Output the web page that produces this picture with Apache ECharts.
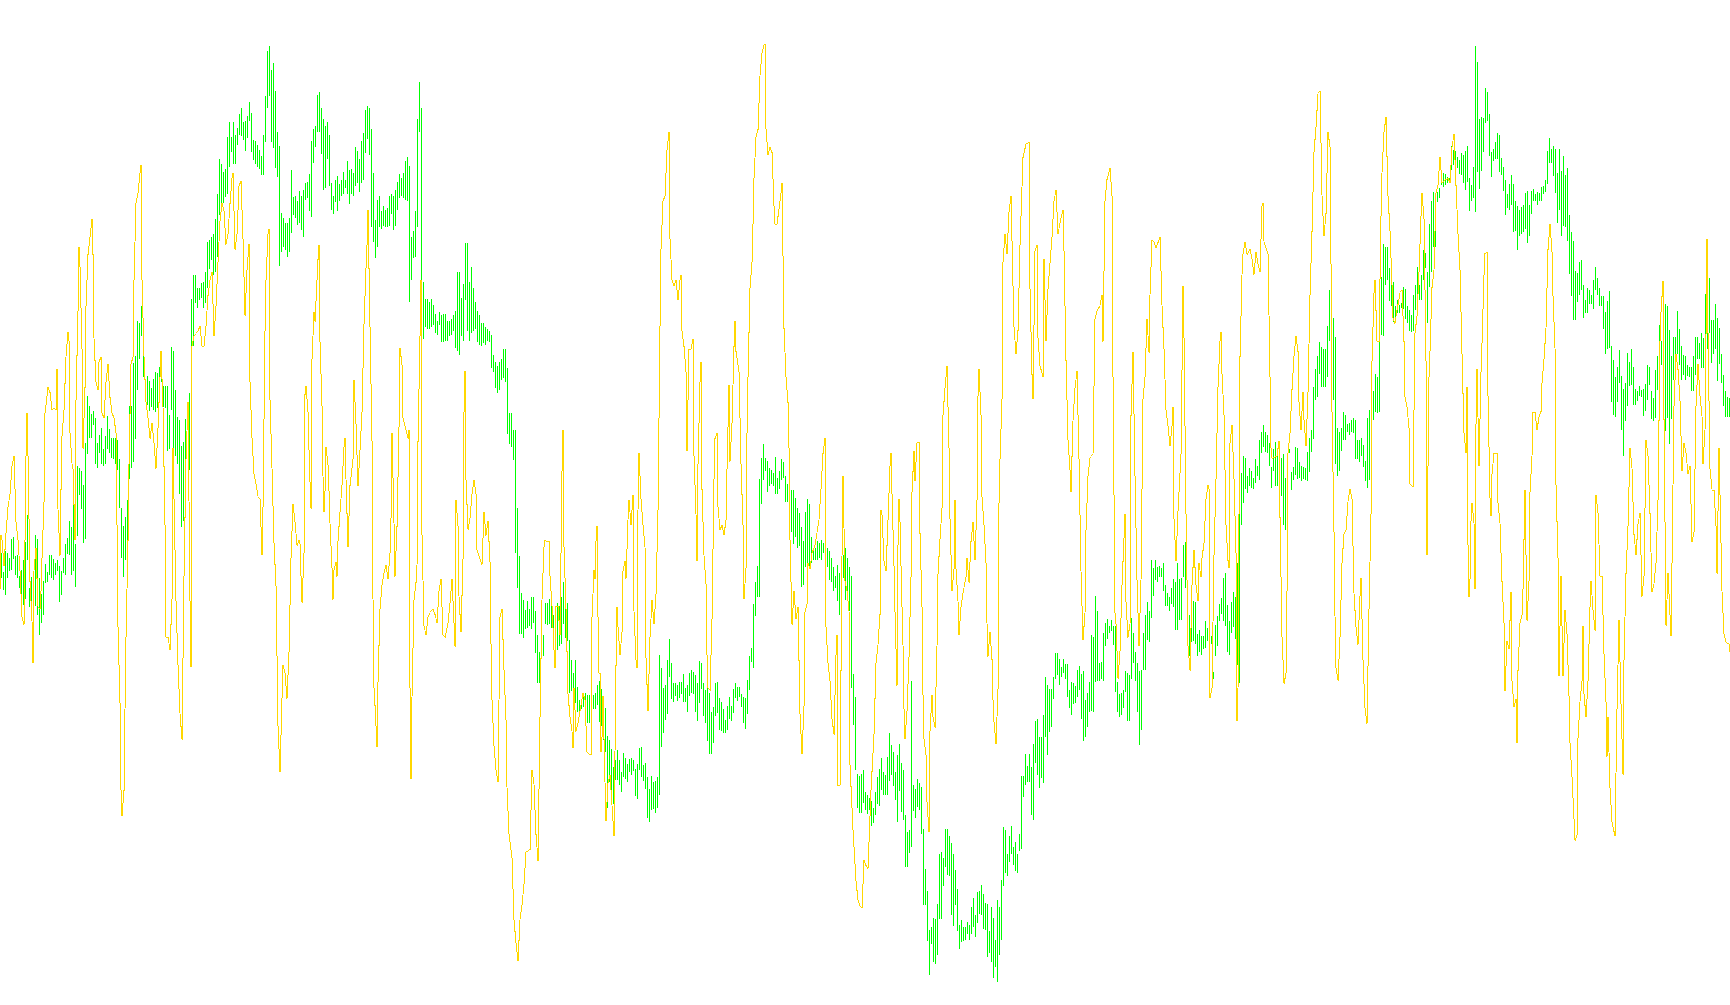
<!DOCTYPE html>
<html><head><meta charset="utf-8"><style>html,body{margin:0;padding:0;background:#fff}#c{width:1730px;height:1005px}</style>
<script src="https://cdn.jsdelivr.net/npm/echarts@6/dist/echarts.min.js"></script></head><body><div id="c"></div>
<script>
// Green range bars: pairs of (high reading, low reading), one pair per sample
const greenA=[553,578,572,590,551,595,553,578,558,571,539,570,537,559,556,575,555,578,576,588,570,600,560,605,542,599,515,560,588,607,577,619,585,632,535,606,539,615,578,635,594,623,581,615,564,583,572,582,555,575,555,578,559,580,563,575,560,571,566,602,571,595,558,573,544,575,538,554,521,555,527,575,469,571,544,587,466,536,468,495,471,509,485,543,443,539,396,454,406,438,414,438,411,425,418,464,443,468,435,453,428,464,449,466,436,464,416,449,429,453,438,458,438,459,438,464,440,470,459,508,508,558,526,577,517,560,500,554,406,479,406,468,363,462,356,439,321,390,323,359,306,336,338,377,387,392,376,405,381,411,388,407,379,410,372,412,373,408,367,382,360,382,386,407,386,408,386,451,415,449,347,410,351,448,390,456,417,464,420,494,446,527,442,521,419,474,402,425,393,470,299,560,275,346,275,303,288,308,288,300,283,298,282,308,272,303,242,288,240,269,237,260,234,275,219,272,194,257,159,215,164,203,172,203,169,197,137,194,122,167,137,152,122,164,135,164,128,145,114,135,108,136,122,140,121,151,116,138,102,121,113,152,140,160,141,164,145,167,150,169,156,175,135,175,96,142,51,108,46,96,70,142,63,148,91,168,132,177,146,266,213,252,218,247,223,250,223,257,218,252,170,233,197,215,196,218,201,225,191,223];
const greenB=[196,230,190,237,183,200,182,198,174,211,141,217,129,163,126,147,95,132,92,132,108,154,119,190,126,188,122,159,135,186,183,210,196,214,180,202,176,211,184,201,180,196,172,194,180,188,161,194,170,204,169,194,173,196,147,186,151,183,159,192,141,183,133,180,110,153,106,139,108,155,129,227,173,242,220,258,200,247,196,227,211,229,206,226,210,227,208,227,196,226,194,214,196,230,190,226,182,210,174,198,178,196,173,198,161,200,157,201,166,302,237,280,231,258,211,257,119,227,82,132,108,324,282,339,299,327,299,329,302,329,299,327,305,325,314,333,321,335,312,325,315,342,314,342,314,341,321,341,321,336,319,335,315,331,311,348,272,351,272,355,298,336,284,341,243,300,243,331,282,341,267,333,288,331,302,329,311,342,315,345,323,346,323,343,327,345,329,341,331,342,335,368,355,372,362,388,366,393,362,390,359,380,349,378,349,382,368,434,413,444,413,447,430,460,430,553,508,588,556,634,593,634,600,638,610,629,601,628,609,626,597,629,597,623,611,653,635,683,652,683,620,659,635,656,603,624,603,625,599,624,591,628,615,650,615,650,603,650,606,646,597,644,582,624,597,638,603,641,640,693,660,691,673,703,660,703,687,712,700,712,700,709,697,707,693,712,695,723,695,723,695,710,695,709,693,709,685,705,681,722];
const greenC=[689,726,696,740,708,752,736,808,740,782,749,798,767,804,760,780,750,780,760,785,772,792,753,777,758,779,764,782,759,772,758,775,760,771,769,796,764,799,748,770,747,777,765,781,763,789,777,818,789,822,776,810,782,809,781,813,777,808,655,795,668,747,688,733,685,720,660,714,639,677,663,699,683,702,683,696,685,701,682,698,682,694,674,702,688,702,685,712,673,696,670,693,672,694,675,712,683,721,661,703,663,689,683,716,690,723,688,741,693,754,712,754,707,743,683,716,682,713,698,730,702,731,709,733,720,733,706,730,697,719,706,721,689,713,683,698,687,701,687,697,694,707,697,723,698,729,680,714,656,690,648,662,604,668,582,616,566,597,479,597,458,504,444,480,458,471,461,492,468,486,470,484,473,486,457,494,478,494,471,489,459,480,462,478,476,502,484,502,492,532,490,532,490,544,498,537,508,548,513,546,527,587,541,585,512,567,499,564,504,568,537,563,549,560,548,560,541,560,543,558,540,560,543,553,537,550,548,567,551,580,558,582,567,591,576,588,565,601,573,615,560,615,555,578,548,600,558,599,567,611,576,688,674,725,697,770,774,808,776,813,774,813,770,803,792,810,795,814,798,810,801,826,808,823,792,815,777,804,769,806,758,790,772,795,775,795,757,795,733,781,745,775,752,786,772,800,755,822,744,791];
const greenD=[763,812,770,820,815,867,832,867,830,853,681,847,785,811,789,818,779,807,783,810,787,834,829,905,869,905,891,941,930,975,927,944,918,962,919,964,904,955,854,919,852,919,858,886,829,867,829,875,836,876,843,915,854,926,870,905,889,931,925,949,920,942,927,941,927,940,922,934,925,940,907,934,898,927,915,937,892,923,891,914,885,915,894,929,903,930,904,957,931,953,907,962,918,978,940,967,900,982,907,955,880,940,827,886,830,873,854,876,836,862,826,854,847,865,842,871,854,873,834,851,776,849,776,797,754,785,766,782,754,782,767,815,744,820,721,763,719,775,737,788,737,778,715,783,677,737,685,755,689,732,689,727,677,699,653,679,653,675,659,685,667,677,659,673,664,679,664,697,690,708,682,715,683,704,686,703,670,697,666,690,674,719,671,741,700,737,693,727,682,712,635,711,637,712,596,682,611,681,663,681,662,679,633,681,623,646,619,639,626,633,620,631,626,645,626,692,682,712,694,717,693,715,690,708,671,692,673,721,675,721,618,679,633,663,652,681,663,712,671,745,670,730,633,670,615,670,602,640,611,642,560,618,568,596,560,580,567,582,566,577,568,577,563,591,585,606,593,606,597,611,588,604,579,607,582,630,563,630,579,620,578,620,545,577,542,588,624,646,615,656,586,642,601,641,602,644,634,656,630,652];
const greenE=[636,655,636,649,621,648,628,641,625,642,636,644,672,679,625,656,616,646,604,621,598,614,578,621,573,626,605,652,621,655,602,633,592,627,597,639,563,665,454,683,473,525,456,503,458,489,476,493,468,486,471,488,478,489,459,483,466,476,440,480,432,453,425,447,432,452,435,453,443,466,467,488,449,471,442,486,456,486,466,484,458,496,454,525,478,530,461,522,449,453,472,490,467,480,447,475,448,479,462,478,466,481,467,479,468,480,452,481,438,472,430,452,387,439,369,400,356,397,342,374,347,387,349,387,349,387,326,377,290,341,311,346,318,400,337,464,428,476,432,471,428,451,412,440,415,440,424,432,423,435,420,432,418,433,420,459,440,459,440,462,438,456,445,467,461,481,418,488,410,480,400,432,391,420,374,412,377,413,340,412,277,335,244,336,247,285,247,280,268,301,281,306,282,322,306,320,300,313,305,313,303,308,287,309,289,319,306,323,310,331,315,332,295,331,285,310,267,310,285,300,275,300,250,280,253,268,272,323,224,287,201,272,192,247,208,247,192,202,188,198,174,185,173,187,174,185,177,183,178,183,146,170,150,165,151,163,157,168,160,174,153,175,155,183,151,190,146,182,178,211];
const greenF=[185,201,167,198,46,212,62,172,119,189,117,171,118,152,88,123,92,121,114,156,152,177,149,161,142,159,133,159,135,172,158,175,167,191,180,215,194,208,184,210,175,205,184,232,201,231,206,250,210,236,207,234,205,232,193,229,191,243,205,236,191,214,189,201,194,201,192,205,193,201,187,201,186,194,180,192,151,184,138,163,149,163,146,176,149,193,173,223,149,210,171,236,156,226,175,227,168,241,215,274,232,296,241,320,271,320,273,302,262,295,260,290,285,318,300,313,288,313,290,304,295,304,280,309,267,290,278,295,288,306,296,306,296,329,312,354,301,349,291,348,346,402,360,415,377,417,367,402,350,383,376,430,389,456,383,421,353,406,362,386,349,385,367,405,389,405,391,401,386,396,390,397,389,416,384,411,365,400,367,385,391,419,398,421,370,418,356,390,325,365,341,365,327,363,304,431,306,418,330,444,356,419,337,380,337,363,311,354,329,365,346,380,355,375,356,380,365,376,367,377,367,391,356,391,337,375,337,359,343,359,333,368,338,368,294,359,285,349,278,333,320,363,320,354,304,349,318,381,328,364,354,383,375,406,391,417,397,417,398,417];

// Yellow line readings: pairs of (position, reading) per crop of the reference
const yellowA=[0,1095,3,990,6,1000,12,1050,18,985,24,935,30,910,36,855,42,835,48,965,54,1000,60,1060,66,1150,72,1165,78,835,82,750,86,835,90,1080,96,1160,100,1240,104,1060,108,1015,112,1075,116,1130,120,1135,124,1100,128,1035,132,925,136,750,140,735,146,700,150,710,156,745,162,740,168,745,172,665,176,940,180,1030,184,900,188,795,192,745,198,640,204,592,208,610,212,790,216,850,220,860,225,1000,230,725,234,550,238,425,242,465,246,625,250,820,256,700,260,540,264,440,270,405,276,370,280,440,284,605,290,690,294,705,298,650,304,640,308,750,314,760,318,690,324,655,330,720,336,750,342,760,348,790,352,970,356,1170,360,1320,364,1490,368,1540,372,1490,376,1330,380,1190,384,1000,388,850,394,655,400,640,404,490,410,340,416,320,420,280,424,265,428,490,432,640,438,730,444,760,450,800,456,770,462,810,468,860,474,780,480,680,484,630,490,740,496,970,500,1190,506,1190,512,1215,516,1115,520,820,524,920,528,1120,534,1245,540,1340,546,1390,552,1070,558,840,564,730,570,1120,574,1250,578,620,584,600,590,595,596,590,602,580,608,620,614,620,620,580,626,520,632,490,638,475,644,600,650,540,656,455,660,375,666,340,672,355,678,420,684,400,690,340,696,290,700,280,706,430,712,400,718,305,724,295,730,410,736,560,742,470,748,420,752,690,756,800,762,870,768,890,774,915,780,920,786,1030,790,935,796,590,800,490,804,400,808,390,812,725,816,860,822,1005,828,1090,834,1365,840,1455,846,1310,850,1245,856,1260,862,1310,868,1220,874,1035,880,930,886,965,892,1010,898,1000];
const yellowB=[0,825,4,880,8,925,12,840,14,670,16,570,20,555,24,600,27,665,30,720,34,765,38,510,42,430,46,445,50,410,54,340,58,315,62,480,66,590,70,710,72,770,76,735,80,660,84,690,88,735,92,790,96,865,100,920,104,870,108,855,112,880,116,820,120,770,126,725,132,660,136,645,140,715,146,830,152,725,160,680,164,545,170,620,176,725,182,665,188,600,192,450,198,355,202,315,206,255,212,455,216,650,219,920,222,1070,226,1100,232,1170,236,1060,240,935,246,895,252,875,258,860,264,885,270,840,274,780,278,635,282,790,286,880,292,795,298,625,302,490,306,520,310,610,318,630,324,645,328,630,332,1070,335,1225,338,1085,342,920,348,890,352,860,356,650,360,470,364,375,368,810,372,965,378,980,384,950,392,942,400,935,406,945,412,960,418,905,424,885,430,980,436,985,444,960,450,925,456,885,462,960,466,1000,470,750,474,795,478,915,484,975,490,850,493,600,496,530,500,715,504,800,510,780,516,740,522,715,528,740,532,835,540,850,548,860,553,770,560,810,566,785,572,855,574,995,578,1090,582,1170,588,1210,594,1230,598,1090,602,950,606,935,612,1040,618,1125,622,1240,628,1320,636,1360,642,1465,648,1505,656,1535,662,1465,668,1440,674,1405,680,1350,690,1345,696,1210,702,1235,708,1320,714,1365,720,1120,724,1020,728,920,732,830,736,818,742,820,748,820,752,880,758,930,762,1005,766,1035,770,930,776,930,782,980,786,700,790,630,794,830,800,935,804,1080,810,1120,816,1145,820,1172,824,1070,830,1145,836,1130,842,1110,850,1078,856,1090,862,1180,868,1182,874,1185,878,950,882,870,886,885,890,820,892,795,896,950,899,1045];
const yellowC=[0,1260,3,1415,6,1385,10,1305,15,1475,20,1550,24,1475,30,1460,36,1520,42,1580,48,1245,52,1130,56,1170,60,1225,66,1180,70,1060,75,1040,80,1075,84,960,88,922,94,970,100,912,104,1140,108,1235,112,1250,115,940,118,830,124,920,130,970,136,1015,140,1230,146,1335,152,1190,158,1118,164,1165,170,1105,175,940,180,580,184,430,190,335,196,325,202,235,207,200,212,410,216,490,222,500,228,490,234,530,240,490,244,480,248,590,252,620,258,670,262,825,268,625,274,625,280,605,284,835,288,950,291,1040,296,850,300,690,304,650,308,900,314,1030,318,1085,322,1225,326,1290,332,1295,336,1155,342,880,346,800,352,790,356,935,360,980,366,970,372,990,378,960,382,860,387,695,392,845,398,770,402,620,406,570,410,630,418,670,424,850,430,970,434,1115,438,1055,442,790,446,680,450,505,456,455,460,380,464,290,468,210,474,195,480,90,486,45,492,30,496,28,500,195,504,245,512,230,518,240,522,345,526,380,532,380,538,350,544,320,548,300,552,585,558,680,564,730,568,820,572,1000,578,1165,584,1100,590,1155,596,1130,602,1340,606,1420,612,1325,616,1140,622,1125,626,1045,632,1055,638,1025,646,1010,652,985,658,960,664,900,670,830,676,800,680,1170,686,1240,692,1275,698,1350,702,1380,708,1225,712,1185,716,1480,722,1480,728,1030,731,875,736,1080,742,1100,748,1140,752,1440,759,1568,768,1667,774,1706,780,1716,786,1720,792,1627,798,1637,804,1643,813,1490,822,1380,826,1310,830,1240,834,1205,840,1145,843,940,848,950,852,1040,858,1060,864,960,870,855,874,830,878,910,882,1050,887,1140,892,1285,896,1010,899,920];
const yellowD=[0,715,4,795,7,870,10,940,14,1055,17,1110,22,1060,27,960,33,815,38,660,42,585,46,640,52,570,58,568,62,735,66,870,70,1030,74,1110,78,1140,82,1225,87,1280,92,1095,96,1030,100,1070,106,1090,112,940,116,810,120,745,126,690,130,520,136,470,142,430,148,580,152,710,157,840,162,800,166,675,170,800,174,860,178,920,184,870,190,845,198,815,202,780,208,825,214,750,220,715,226,785,231,675,236,485,239,435,244,520,248,670,254,720,258,790,262,900,265,960,270,915,276,965,280,1040,284,1080,290,1120,294,1020,298,680,302,600,306,490,310,240,316,190,322,225,328,150,334,120,340,285,344,360,350,408,356,365,362,210,370,50,378,25,388,22,392,290,396,445,401,490,406,220,412,210,416,380,422,430,430,450,434,235,440,385,446,290,456,195,462,130,470,110,476,190,484,160,490,145,494,220,500,420,506,565,510,620,514,660,520,530,526,470,532,440,538,600,544,805,550,930,556,880,560,730,566,630,572,598,580,590,586,345,592,330,600,320,606,300,610,385,616,130,622,90,630,70,636,120,640,450,646,880,650,900,656,1000,662,950,668,830,676,700,680,860,685,925,690,900,695,520,700,405,706,630,712,820,718,940,724,820,730,490,736,450,742,345,748,405,752,300,756,200,762,205,770,215,780,195,786,320,792,400,798,510,804,540,810,575,816,540,820,505,824,710,830,785,836,695,844,590,850,285,854,380,860,700,866,940,872,985,876,830,882,765,888,830,894,860,899,790];
const yellowE=[0,1040,4,1052,8,1015,12,985,18,900,24,872,28,880,32,1290,36,1270,42,1010,48,860,54,680,60,590,64,572,68,655,74,735,80,950,84,1020,88,1035,92,790,98,755,104,860,108,1005,112,1335,116,1270,119,930,122,620,126,460,130,420,136,395,142,420,150,410,156,430,162,460,168,415,174,440,180,455,186,325,190,320,194,395,204,420,210,660,214,800,218,820,224,818,232,815,238,785,242,935,248,1170,254,1262,258,1240,262,1080,266,810,272,770,278,685,284,620,290,580,294,610,298,710,304,765,310,690,314,745,320,795,326,690,330,500,336,375,342,220,348,170,354,105,362,100,368,305,374,385,380,340,386,180,390,210,395,440,398,730,402,965,406,1130,410,1230,414,1255,420,1170,426,1025,432,968,440,960,446,905,452,880,458,900,462,1085,468,1150,476,1185,480,1090,484,1055,490,1215,496,1310,502,1340,508,1115,514,930,518,630,522,495,526,470,532,590,538,590,544,345,548,260,552,180,558,150,564,305,570,375,576,480,580,545,586,555,592,530,600,495,606,490,612,590,616,700,622,720,628,760,632,870,640,875,646,575,652,540,658,455,664,345,668,300,672,350,678,630,682,1010,688,660,692,610,698,485,704,450,710,300,716,285,722,230,728,280,736,275,744,270,752,280,758,210,764,185,770,285,776,380,782,450,788,615,794,770,798,810,802,680,806,990,809,1092];
const yellowF=[0,1030,4,920,8,885,12,925,16,1050,20,735,23,630,28,815,34,635,38,580,42,450,46,408,52,405,56,680,60,875,64,910,68,830,72,790,82,790,86,885,92,925,96,1035,102,1115,106,1245,112,1150,118,1165,124,1055,128,1225,132,1275,138,1260,142,1345,146,1205,150,1115,156,1100,160,1050,166,860,172,1110,178,1035,182,865,186,795,190,712,196,712,202,745,208,720,214,710,218,655,224,610,230,550,236,400,240,352,246,405,250,490,256,590,260,850,264,990,268,1215,274,1025,280,1215,286,1090,292,1135,298,1255,302,1345,306,1410,312,1490,316,1530,322,1520,326,1335,330,1265,336,1225,340,1120,344,1250,348,1295,354,1225,360,1085,364,1035,370,1090,376,1130,380,870,386,905,392,1025,398,1025,404,1175,408,1265,412,1370,416,1295,422,1430,428,1495,436,1522,442,1280,448,1110,454,1270,460,1405,464,1185,470,1020,476,930,482,780,488,820,494,945,500,985,506,925,512,905,518,1065,524,1025,530,765,534,795,540,905,546,1055,552,1040,558,1000,564,880,570,575,574,520,580,460,584,725,590,1120,596,1020,604,1140,608,1000,614,700,620,600,626,630,632,690,638,825,644,770,650,790,656,830,662,815,668,960,674,940,680,700,684,620,690,680,696,720,700,810,706,745,712,380,716,560,722,820,728,860,734,860,738,930,742,1020,748,780,752,870,756,1055,762,1135,768,1152,778,1155,779,1170];
// How each crop's readings map to the chart's own time/value units
const yellowCrops=[[yellowA,0,30,800/1568],[yellowB,300,60,920/1568],[yellowC,600,30,800/1568],[yellowD,900,130,860/1568],[yellowE,1200,40,800/1568],[yellowF,1470,40,820/1568]];

const greenAll=[...greenA,...greenB,...greenC,...greenD,...greenE,...greenF];
const barData=[];
for(let i=0;i+1<greenAll.length;i+=2){barData.push([i+1,greenAll[i],greenAll[i+1]]);}
const yPts=[];
yellowCrops.forEach(([arr,t0,v0,k])=>{for(let i=0;i+1<arr.length;i+=2){yPts.push([t0+arr[i]/3,v0+arr[i+1]*k]);}});
const lineData=[];
for(let i=1;i<yPts.length;i++){lineData.push([yPts[i-1][0],yPts[i-1][1],yPts[i][0],yPts[i][1]]);}

const GREEN='#00FF00',YELLOW='#FFD700';
const chart=echarts.init(document.getElementById('c'),null,{renderer:'canvas'});
chart.setOption({
  backgroundColor:'#ffffff',animation:false,tooltip:{show:false},
  grid:{left:0,right:0,top:0,bottom:0,containLabel:false},
  xAxis:{type:'value',min:0,max:1730,show:false},
  yAxis:{type:'value',min:0,max:1005,inverse:true,show:false},
  series:[
    {type:'custom',silent:true,z:2,clip:false,encode:{x:0,y:[1,2]},data:barData,
     renderItem(p,api){
       const t=api.coord([api.value(0),api.value(1)]),b=api.coord([api.value(0),api.value(2)]);
       return {type:'rect',shape:{x:Math.floor(t[0]),y:Math.round(t[1]),width:1,height:Math.max(1,Math.round(b[1]-t[1]))},style:{fill:GREEN}};
     }},
    {type:'custom',silent:true,z:3,clip:false,encode:{x:[0,2],y:[1,3]},data:lineData,
     renderItem(p,api){
       const a=api.coord([api.value(0),api.value(1)]),b=api.coord([api.value(2),api.value(3)]);
       const x0=Math.floor(a[0]),x1=Math.max(Math.floor(b[0]),x0+1),kids=[];
       for(let x=x0;x<x1;x++){
         const y0=a[1]+(b[1]-a[1])*(x-x0)/(x1-x0),y1=a[1]+(b[1]-a[1])*(x+1-x0)/(x1-x0);
         const top=Math.round(Math.min(y0,y1)),h=Math.max(1,Math.round(Math.abs(y1-y0)));
         kids.push({type:'rect',shape:{x:x,y:top,width:1,height:h},style:{fill:YELLOW}});
       }
       return {type:'group',children:kids};
     }}
  ]
});
</script></body></html>
